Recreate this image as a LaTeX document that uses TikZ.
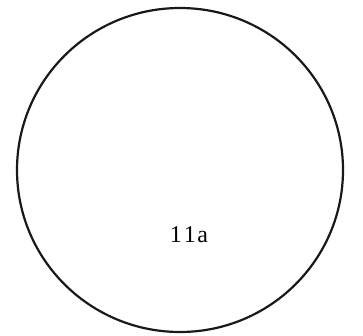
\documentclass[tikz,border=0pt]{standalone}
\usepackage{fontspec}
\setmainfont{Liberation Serif}
\begin{document}
\begin{tikzpicture}[x=1pt,y=-1pt,
  ring/.style={draw=black!90,line width=2.2pt},
  lbl/.style={font=\fontsize{24}{26}\selectfont,inner sep=0pt}]
\useasboundingbox (0,0) rectangle (363,336);
\draw[ring] (180,170) ellipse [x radius=163, y radius=162];
\node[lbl] (label) at (189,235) {1\kern2pt1\kern1.5pt a};
\end{tikzpicture}
\end{document}
